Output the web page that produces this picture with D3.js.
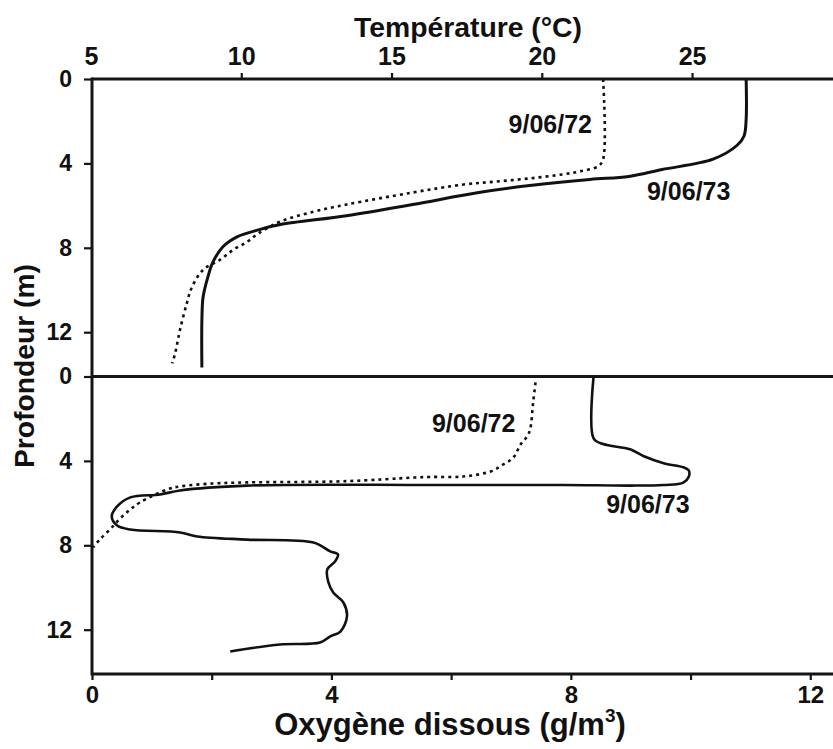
<!DOCTYPE html>
<html>
<head>
<meta charset="utf-8">
<script src="https://cdn.jsdelivr.net/npm/d3@7"></script>
<style>
  html, body { margin: 0; padding: 0; background: #fff; }
  svg { display: block; }
  text { font-family: "Liberation Sans", Arial, Helvetica, sans-serif; fill: #111; }
</style>
</head>
<body>
<script>
// ---------- data ----------
const tempTickValues = [5, 10, 15, 20, 25];
const depthTickValues = [0, 4, 8, 12];
const oxyTickValues = [0, 2, 4, 6, 8, 10, 12];
const oxyTickLabels = [0, 4, 8, 12];

// Temperature profiles: [temperature °C, depth m]
const temp1972 = [
  [22.04, 0], [22.04, 3.81], [21.87, 4.14], [21.27, 4.38], [20.7, 4.52], [19.6, 4.71],
  [18.5, 4.86], [17.4, 5.0], [15.7, 5.38], [13.5, 5.95], [12.4, 6.29], [11.3, 6.76],
  [10.6, 7.29], [10.2, 7.71], [9.73, 8.1], [9.29, 8.57], [8.73, 9.05], [8.36, 9.86],
  [8.19, 10.62], [7.96, 11.9], [7.8, 13.0], [7.7, 13.48]
];
const temp1973 = [
  [26.8, 0], [26.8, 1.9], [26.73, 2.7], [26.5, 3.14], [25.7, 3.8], [24.0, 4.29],
  [22.9, 4.62], [21.6, 4.76], [19.6, 5.05], [17.9, 5.38], [15.7, 5.95],
  [13.5, 6.48], [11.3, 6.9], [10.6, 7.14], [9.86, 7.48], [9.39, 7.95], [9.06, 8.67],
  [8.89, 9.38], [8.73, 10.33], [8.69, 11.43], [8.69, 13.67]
];

// Dissolved oxygen profiles: [O2 g/m3, depth m]
const oxy1972 = [
  [7.41, 0.28], [7.37, 1.23], [7.32, 2.51], [7.27, 2.84], [7.16, 3.22], [7.04, 3.84],
  [6.87, 4.17], [6.66, 4.5], [6.2, 4.74], [5.65, 4.76], [5.37, 4.79], [4.26, 4.96],
  [2.59, 5.02], [2.02, 5.07], [1.47, 5.21], [1.3, 5.31], [0.8, 5.97], [0.64, 6.3],
  [0.47, 6.73], [0.3, 7.25], [0.13, 7.73], [0.02, 8.1]
];
const oxy1973 = [
  [8.38, 0], [8.38, 2.93], [8.54, 3.2], [8.99, 3.45], [9.21, 3.77], [9.55, 4.11],
  [9.88, 4.3], [9.97, 4.45], [9.97, 4.75], [9.88, 5.03], [9.55, 5.14], [9.0, 5.17], [7.88, 5.14],
  [5.65, 5.14], [2.59, 5.17], [1.47, 5.4], [1.14, 5.59], [0.64, 5.73], [0.42, 6.16],
  [0.33, 6.64], [0.42, 7.06], [0.64, 7.25], [1.47, 7.39], [1.76, 7.58], [2.59, 7.73],
  [3.7, 7.87], [3.98, 8.29], [4.11, 8.44], [4.06, 8.77], [3.93, 9.15], [3.95, 9.76],
  [4.03, 10.24], [4.2, 10.71], [4.26, 11.37], [4.15, 12.09], [3.98, 12.32], [3.81, 12.61],
  [3.14, 12.7], [2.31, 13.03]
];

const seriesLabels = ["9/06/72", "9/06/73"];

// ---------- layout ----------
const W = 833, H = 749;
const svg = d3.select("body").append("svg").attr("width", W).attr("height", H);

const xT = d3.scaleLinear().domain([5, 29.69]).range([91, 833]);
const xO = d3.scaleLinear().domain([0, 12.38]).range([92, 833]);
const yTop = d3.scaleLinear().domain([0, 14.1]).range([79, 376.5]);
const yBot = d3.scaleLinear().domain([0, 14.1]).range([376.5, 674]);

const axisColor = "#151515";

const gTop = svg.append("g").attr("transform", `translate(0,${yTop(0)})`)
  .call(d3.axisTop(xT).tickValues(tempTickValues).tickSize(6).tickSizeOuter(0).tickPadding(8));
const gBot = svg.append("g").attr("transform", `translate(0,${yBot.range()[1]})`)
  .call(d3.axisBottom(xO).tickValues(oxyTickValues).tickSize(6).tickSizeOuter(0).tickPadding(6)
    .tickFormat(d => oxyTickLabels.includes(d) ? d : ""));
const gL1 = svg.append("g").attr("transform", `translate(${xO(0)},0)`)
  .call(d3.axisLeft(yTop).tickValues(depthTickValues).tickSize(8).tickSizeOuter(0).tickPadding(12));
const gL2 = svg.append("g").attr("transform", `translate(${xO(0)},0)`)
  .call(d3.axisLeft(yBot).tickValues(depthTickValues).tickSize(8).tickSizeOuter(0).tickPadding(12));

[gTop, gBot, gL1, gL2].forEach(g => {
  g.select(".domain").remove();
  g.selectAll(".tick line").attr("stroke", axisColor).attr("stroke-width", 2.2);
  g.selectAll(".tick text").attr("fill", "#111").style("font-weight", "bold")
    .style("font-family", '"Liberation Sans", Arial, sans-serif');
});
gTop.selectAll(".tick text").style("font-size", "25px");
gBot.selectAll(".tick text").style("font-size", "24px");
gL1.selectAll(".tick text").style("font-size", "23px");
gL2.selectAll(".tick text").style("font-size", "23px");
gTop.selectAll(".tick").filter(d => d === 5).select("line").remove();

const frame = svg.append("g").attr("stroke", axisColor).attr("stroke-width", 3).attr("fill", "none");
frame.append("line").attr("x1", xO(0)).attr("x2", W).attr("y1", yTop(0)).attr("y2", yTop(0));
frame.append("line").attr("x1", xO(0)).attr("x2", W).attr("y1", yBot(0)).attr("y2", yBot(0));
frame.append("line").attr("x1", xO(0)).attr("x2", W).attr("y1", yBot.range()[1]).attr("y2", yBot.range()[1]);
frame.append("line").attr("x1", xO(0)).attr("x2", xO(0)).attr("y1", yTop(0) - 1.5).attr("y2", yBot.range()[1] + 1.5);

const lineT = d3.line().x(d => xT(d[0])).y(d => yTop(d[1])).curve(d3.curveCatmullRom.alpha(0.5));
const lineO = d3.line().x(d => xO(d[0])).y(d => yBot(d[1])).curve(d3.curveCatmullRom.alpha(0.5));

const curves = svg.append("g").attr("fill", "none").attr("stroke", "#111");
curves.append("path").datum(temp1972).attr("d", lineT)
  .attr("stroke-width", 2.6).attr("stroke-dasharray", "3,4");
curves.append("path").datum(temp1973).attr("d", lineT)
  .attr("stroke-width", 3);
curves.append("path").datum(oxy1972).attr("d", lineO)
  .attr("stroke-width", 2.6).attr("stroke-dasharray", "3,4");
curves.append("path").datum(oxy1973).attr("d", lineO)
  .attr("stroke-width", 2.6);

const lab = svg.append("g").style("font-size", "25px").style("font-weight", "bold");
lab.append("text").attr("x", xT(21.67)).attr("y", yTop(2.56)).attr("text-anchor", "end").text(seriesLabels[0]);
lab.append("text").attr("x", xT(23.5)).attr("y", yTop(5.73)).attr("text-anchor", "start").text(seriesLabels[1]);
lab.append("text").attr("x", xO(5.68)).attr("y", yBot(2.63)).attr("text-anchor", "start").text(seriesLabels[0]);
lab.append("text").attr("x", xO(8.59)).attr("y", yBot(6.47)).attr("text-anchor", "start").text(seriesLabels[1]);

svg.append("text").attr("x", 468).attr("y", 37).attr("text-anchor", "middle")
  .style("font-size", "28px").style("font-weight", "bold")
  .attr("textLength", 228).attr("lengthAdjust", "spacingAndGlyphs")
  .text("Température (°C)");

const ot = svg.append("text").attr("x", 450).attr("y", 735).attr("text-anchor", "middle")
  .style("font-size", "31px").style("font-weight", "bold");
ot.append("tspan").text("Oxygène dissous (g/m");
ot.append("tspan").attr("dy", -13).style("font-size", "19px").text("3");
ot.append("tspan").attr("dy", 13).text(")");

svg.append("text").attr("transform", "translate(34,366) rotate(-90)").attr("text-anchor", "middle")
  .style("font-size", "28px").style("font-weight", "bold")
  .attr("textLength", 204).attr("lengthAdjust", "spacingAndGlyphs")
  .text("Profondeur (m)");
</script>
</body>
</html>
